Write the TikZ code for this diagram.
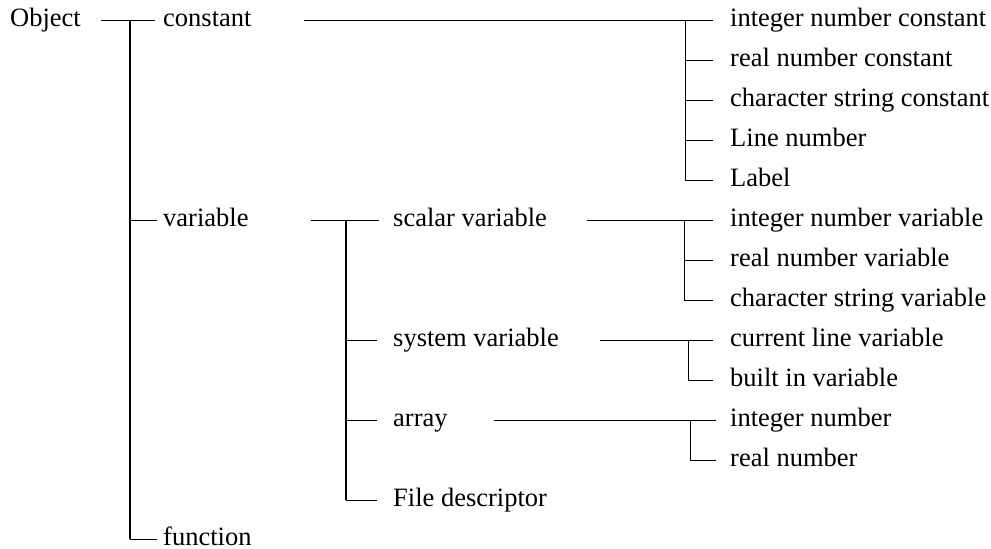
\documentclass[tikz,border=0pt]{standalone}
\usepackage{fontspec}
\setmainfont{Liberation Serif}
\usetikzlibrary{calc}

\begin{document}
\begin{tikzpicture}[x=1pt, y=-1pt,
  lbl/.style={anchor=west, inner sep=0pt, text height=14pt, text depth=2pt,
              font=\fontsize{26.5}{30}\selectfont},
  link/.style={line width=1pt},
  trunk/.style={line width=1.6pt}]

\useasboundingbox (0,0) rectangle (991,549);

% Parameters
\def\dy{40}
\def\xa{163}
\def\xb{393}
\def\xc{730}

% Root and first level
\node[lbl] (obj) at (10,20) {Object};
\node[lbl] (cst) at (\xa,20) {constant};
\node[lbl] (var) at (\xa,220) {variable};
\node[lbl] (fun) at (\xa,539) {function};

\coordinate (j0) at (130,20);
\draw[link] ([xshift=20pt]obj.east) -- ([xshift=-8pt]cst.west);
\draw[trunk] (j0) -- (j0 |- fun.west);
\draw[link] (j0 |- var.west) -- ([xshift=-6pt]var.west);
\draw[link] (j0 |- fun.west) -- ([xshift=-6pt]fun.west);

% Constants
\foreach \t [count=\i from 0] in {integer number constant, real number constant,
    character string constant, Line number, Label}
{
    \node[lbl] (c\i) at (\xc,20+\dy*\i) {\t};
}

\coordinate (jc) at (685,20);
\draw[link] ([xshift=52pt]cst.east) -- ([xshift=-17pt]c0.west);
\draw[link] (jc) -- (jc |- c4.west);
\foreach \i in {1,...,4}
{
    \draw[link] (jc |- c\i.west) -- ([xshift=-17pt]c\i.west);
}

% Variables
\node[lbl] (sca) at (\xb,220) {scalar variable};
\node[lbl] (sys) at (\xb,340) {system variable};
\node[lbl] (arr) at (\xb,420) {array};
\node[lbl] (fd) at (\xb,500) {File descriptor};

\coordinate (jv) at (346,220);
\draw[link] ([xshift=62pt]var.east) -- ([xshift=-14pt]sca.west);
\draw[trunk] (jv) -- (jv |- fd.west);
\foreach \n in {sys,arr,fd}
{
    \draw[link] (jv |- \n.west) -- ([xshift=-16pt]\n.west);
}

% Scalar variables
\foreach \t [count=\i from 0] in {integer number variable, real number variable,
    character string variable}
{
    \node[lbl] (s\i) at (\xc,220+\dy*\i) {\t};
}

\coordinate (js) at (684,220);
\draw[link] ([xshift=40pt]sca.east) -- ([xshift=-17pt]s0.west);
\draw[link] (js) -- (js |- s2.west);
\foreach \i in {1,2}
{
    \draw[link] (js |- s\i.west) -- ([xshift=-17pt]s\i.west);
}

% System variables
\node[lbl] (y0) at (\xc,340) {current line variable};
\node[lbl] (y1) at (\xc,380) {built in variable};

\coordinate (jy) at (688,340);
\draw[link] ([xshift=41pt]sys.east) -- ([xshift=-17pt]y0.west);
\draw[link] (jy) -- (jy |- y1.west) -- ([xshift=-17pt]y1.west);

% Arrays
\node[lbl] (a0) at (\xc,420) {integer number};
\node[lbl] (a1) at (\xc,460) {real number};

\coordinate (ja) at (690,420);
\draw[link] ([xshift=46pt]arr.east) -- ([xshift=-14pt]a0.west);
\draw[link] (ja) -- (ja |- a1.west) -- ([xshift=-14pt]a1.west);

\end{tikzpicture}
\end{document}
